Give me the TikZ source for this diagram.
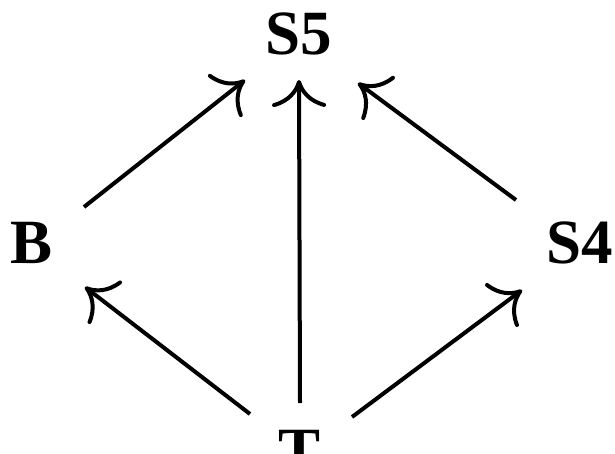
\documentclass[tikz,border=0pt]{standalone}
\usepackage{fontspec}
\setmainfont{Liberation Serif}
\usetikzlibrary{arrows.meta}
\tikzset{
  lbl/.style={inner sep=0pt, anchor=base, font=\fontsize{63}{70}\selectfont\bfseries},
  arr/.style={line width=4pt, -{Computer Modern Rightarrow[length=27pt, width=54pt]}}
}
\begin{document}
\begin{tikzpicture}[x=1pt,y=1pt]
\useasboundingbox (0,0) rectangle (615,453);
\clip (0,0) rectangle (615,453);
\node[lbl] (S5) at (299,398) {S5};
\node[lbl] (B) at (32,190) {B};
\node[lbl] (S4) at (580,190) {S4};
\node[lbl] (T) at (300,-18) {T};
\draw[arr] ([shift={(52,56)}]B.base) -- ([shift={(-54,-25)}]S5.base);
\draw[arr] ([shift={(0,68)}]T.base) -- ([shift={(0,-25)}]S5.base);
\draw[arr] ([shift={(-64,63)}]S4.base) -- ([shift={(59,-28)}]S5.base);
\draw[arr] ([shift={(-50,57)}]T.base) -- ([shift={(53,-24)}]B.base);
\draw[arr] ([shift={(52,54)}]T.base) -- ([shift={(-58,-27)}]S4.base);
\end{tikzpicture}
\end{document}
